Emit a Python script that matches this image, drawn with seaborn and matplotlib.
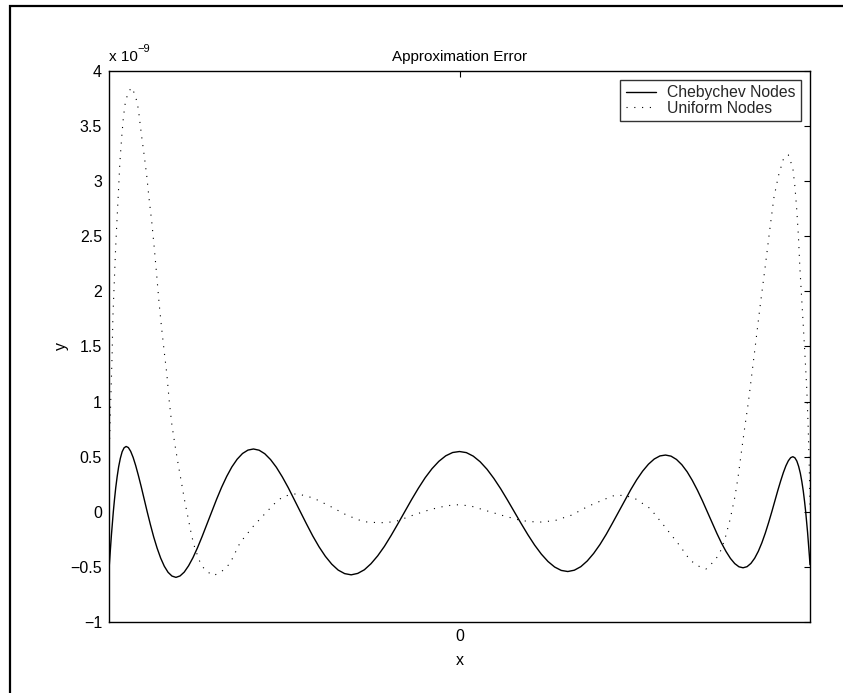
import matplotlib
matplotlib.use("Agg")
import matplotlib.pyplot as plt
from matplotlib.lines import Line2D
from matplotlib.patches import Rectangle
import pandas as pd
import seaborn as sns

# Interpolation error samples, in units of 1e-9
cheb_x = [-1.0, -0.9998, -0.9992, -0.9983, -0.9969, -0.9952, -0.9931, -0.9906,
          -0.9877, -0.9844, -0.9808, -0.9767, -0.9724, -0.9676, -0.9625, -0.9569,
          -0.9511, -0.9448, -0.9382, -0.9312, -0.9239, -0.9162, -0.9081, -0.8997,
          -0.8910, -0.8819, -0.8725, -0.8627, -0.8526, -0.8422, -0.8315, -0.8204,
          -0.8090, -0.7973, -0.7853, -0.7730, -0.7604, -0.7475, -0.7343, -0.7208,
          -0.7071, -0.6931, -0.6788, -0.6642, -0.6495, -0.6344, -0.6191, -0.6035,
          -0.5878, -0.5718, -0.5556, -0.5391, -0.5225, -0.5056, -0.4886, -0.4714,
          -0.4540, -0.4364, -0.4187, -0.4007, -0.3827, -0.3645, -0.3461, -0.3276,
          -0.3090, -0.2903, -0.2714, -0.2525, -0.2335, -0.2143, -0.1951, -0.1758,
          -0.1564, -0.1370, -0.1175, -0.0980, -0.0785, -0.0589, -0.0393, -0.0196,
          0.0,
          0.0196, 0.0393, 0.0589, 0.0785, 0.0980, 0.1175, 0.1370, 0.1564,
          0.1758, 0.1951, 0.2143, 0.2335, 0.2525, 0.2714, 0.2903, 0.3090,
          0.3276, 0.3461, 0.3645, 0.3827, 0.4007, 0.4187, 0.4364, 0.4540,
          0.4714, 0.4886, 0.5056, 0.5225, 0.5391, 0.5556, 0.5718, 0.5878,
          0.6035, 0.6191, 0.6344, 0.6495, 0.6642, 0.6788, 0.6931, 0.7071,
          0.7208, 0.7343, 0.7475, 0.7604, 0.7730, 0.7853, 0.7973, 0.8090,
          0.8204, 0.8315, 0.8422, 0.8526, 0.8627, 0.8725, 0.8819, 0.8910,
          0.8997, 0.9081, 0.9162, 0.9239, 0.9312, 0.9382, 0.9448, 0.9511,
          0.9569, 0.9625, 0.9676, 0.9724, 0.9767, 0.9808, 0.9844, 0.9877,
          0.9906, 0.9931, 0.9952, 0.9969, 0.9983, 0.9992, 0.9998, 1.0]
cheb_err = [-0.520, -0.515, -0.490, -0.445, -0.382, -0.303, -0.211, -0.108,
            0.000, 0.110, 0.218, 0.320, 0.410, 0.486, 0.545, 0.581,
            0.593, 0.583, 0.549, 0.494, 0.420, 0.330, 0.228, 0.116,
            0.000, -0.116, -0.228, -0.330, -0.420, -0.494, -0.549, -0.583,
            -0.595, -0.582, -0.547, -0.490, -0.416, -0.326, -0.224, -0.114,
            0.000, 0.113, 0.222, 0.321, 0.407, 0.477, 0.529, 0.560,
            0.570, 0.559, 0.527, 0.474, 0.404, 0.317, 0.219, 0.111,
            0.000, -0.111, -0.219, -0.318, -0.404, -0.475, -0.529, -0.561,
            -0.572, -0.559, -0.526, -0.471, -0.400, -0.314, -0.215, -0.109,
            0.000, 0.109, 0.213, 0.309, 0.391, 0.458, 0.508, 0.538,
            0.547,
            0.537, 0.505, 0.454, 0.386, 0.303, 0.209, 0.106, 0.000,
            -0.106, -0.208, -0.302, -0.384, -0.451, -0.501, -0.532, -0.542,
            -0.530, -0.498, -0.446, -0.378, -0.297, -0.204, -0.103, 0.000,
            0.103, 0.201, 0.291, 0.369, 0.432, 0.479, 0.507, 0.515,
            0.505, 0.475, 0.427, 0.363, 0.285, 0.196, 0.100, 0.000,
            -0.100, -0.196, -0.284, -0.360, -0.423, -0.470, -0.499, -0.508,
            -0.498, -0.468, -0.421, -0.358, -0.281, -0.193, -0.098, 0.000,
            0.098, 0.193, 0.279, 0.355, 0.417, 0.463, 0.491, 0.500,
            0.490, 0.460, 0.412, 0.350, 0.275, 0.189, 0.096, 0.000,
            -0.095, -0.187, -0.270, -0.343, -0.402, -0.446, -0.472, -0.480]

unif_x = [-1.000, -0.997, -0.994, -0.991, -0.989, -0.985, -0.981, -0.977, -0.973,
          -0.969, -0.964, -0.959, -0.954, -0.947, -0.940, -0.935, -0.928, -0.921,
          -0.916, -0.912, -0.907, -0.899, -0.892, -0.886, -0.878, -0.871, -0.864,
          -0.857, -0.850, -0.842, -0.835, -0.828, -0.821, -0.812, -0.802, -0.793,
          -0.783, -0.774, -0.764, -0.755, -0.740, -0.726, -0.702, -0.678, -0.655,
          -0.626, -0.588, -0.550, -0.526, -0.503, -0.464, -0.417, -0.369, -0.322,
          -0.274, -0.227, -0.184, -0.132, -0.084, -0.037, 0.000, 0.035, 0.082,
          0.130, 0.177, 0.225, 0.272, 0.320, 0.367, 0.415, 0.443, 0.472, 0.501,
          0.544, 0.582, 0.629, 0.658, 0.686, 0.703, 0.729, 0.743, 0.757, 0.772,
          0.786, 0.795, 0.805, 0.814, 0.824, 0.843, 0.857, 0.872, 0.886, 0.897,
          0.910, 0.924, 0.938, 0.951, 0.957, 0.962, 0.967, 0.971, 0.976, 0.981,
          0.986, 0.991, 0.995, 0.998, 1.000]
unif_err = [0.45, 0.80, 1.12, 1.44, 1.76, 2.08, 2.40, 2.66, 2.91,
            3.17, 3.39, 3.58, 3.70, 3.79, 3.83, 3.85, 3.80, 3.73,
            3.65, 3.54, 3.41, 3.22, 3.04, 2.85, 2.63, 2.40, 2.15,
            1.89, 1.67, 1.44, 1.25, 1.00, 0.80, 0.61, 0.42, 0.26,
            0.08, -0.06, -0.22, -0.33, -0.46, -0.53, -0.58, -0.54, -0.47,
            -0.28, -0.13, 0.00, 0.08, 0.14, 0.165, 0.125, 0.05, -0.03,
            -0.09, -0.10, -0.09, -0.03, 0.02, 0.055, 0.065, 0.05, 0.005,
            -0.04, -0.08, -0.095, -0.08, -0.03, 0.05, 0.115, 0.15, 0.148, 0.12,
            0.03, -0.12, -0.31, -0.44, -0.50, -0.52, -0.44, -0.37, -0.25, -0.07,
            0.14, 0.32, 0.56, 0.77, 0.99, 1.48, 1.85, 2.22, 2.58, 2.85,
            3.05, 3.20, 3.24, 3.12, 2.95, 2.75, 2.50, 2.22, 1.95, 1.68,
            1.40, 1.10, 0.75, 0.40, 0.05]

y_ticks = [-1, -0.5, 0, 0.5, 1, 1.5, 2, 2.5, 3, 3.5, 4]
y_tick_labels = ["\u22121", "\u22120.5", "0", "0.5", "1", "1.5", "2", "2.5", "3", "3.5", "4"]
x_ticks = [0]
x_tick_labels = ["0"]
series_names = ["Chebychev Nodes", "Uniform Nodes"]

sns.set_theme(style="white")
plt.rcParams["font.family"] = ["Liberation Sans", "DejaVu Sans"]

cheb_df = pd.DataFrame({"x": cheb_x, "y": cheb_err})
unif_df = pd.DataFrame({"x": unif_x, "y": unif_err})

dotted = (0, (1, 6))

fig = plt.figure(figsize=(8.43, 6.93), dpi=100)
fig.patch.set_facecolor("white")
ax = fig.add_axes([109 / 843, 1 - 622 / 693, 701 / 843, 551 / 693])

sns.lineplot(data=cheb_df, x="x", y="y", ax=ax, color="black", linewidth=1.0,
             sort=False, estimator=None)
sns.lineplot(data=unif_df, x="x", y="y", ax=ax, color="black", linewidth=0.8,
             linestyle=dotted, sort=False, estimator=None)

ax.set_xlim(-1, 1)
ax.set_ylim(-1, 4)
ax.set_xticks(x_ticks)
ax.set_xticklabels(x_tick_labels)
ax.set_yticks(y_ticks)
ax.set_yticklabels(y_tick_labels)
ax.tick_params(direction="in", length=4.5, width=0.8, top=True, right=True,
               labelsize=11.5, colors="black", pad=5)
for s in ax.spines.values():
    s.set_visible(True)
    s.set_color("black")
    s.set_linewidth(1.0)
ax.grid(False)

ax.set_title("Approximation Error", fontsize=11, color="black", pad=7)
ax.set_xlabel("x", fontsize=11.5, color="black")
ax.set_ylabel("y", fontsize=11.5, color="black")
ax.xaxis.set_label_coords(0.5, -0.056)
ax.yaxis.set_label_coords(-0.057, 0.5)

# exponent multiplier above the y axis
ax.text(0.0, 1.012, "x 10", transform=ax.transAxes, fontsize=11, ha="left",
        va="bottom", color="black")
ax.text(0.04, 1.03, "\u22129", transform=ax.transAxes, fontsize=8, ha="left",
        va="bottom", color="black")

handles = [Line2D([], [], color="black", linewidth=1.0),
           Line2D([], [], color="black", linewidth=0.8, linestyle=dotted)]
leg = ax.legend(handles, series_names, loc="upper right",
                fontsize=11.3, frameon=True, fancybox=False, handlelength=1.9,
                handletextpad=0.75, borderpad=0.35, labelspacing=0.05,
                borderaxespad=0.55)
leg.get_frame().set_edgecolor("black")
leg.get_frame().set_linewidth(1.0)

# outer frame along the top and left edges of the figure
fig.add_artist(Rectangle((10 / 843, -0.2), 1.2, (693 - 6) / 693 + 0.2,
                         transform=fig.transFigure, fill=False,
                         edgecolor="black", linewidth=1.6))

fig.savefig("out.png", dpi=100, facecolor="white")
